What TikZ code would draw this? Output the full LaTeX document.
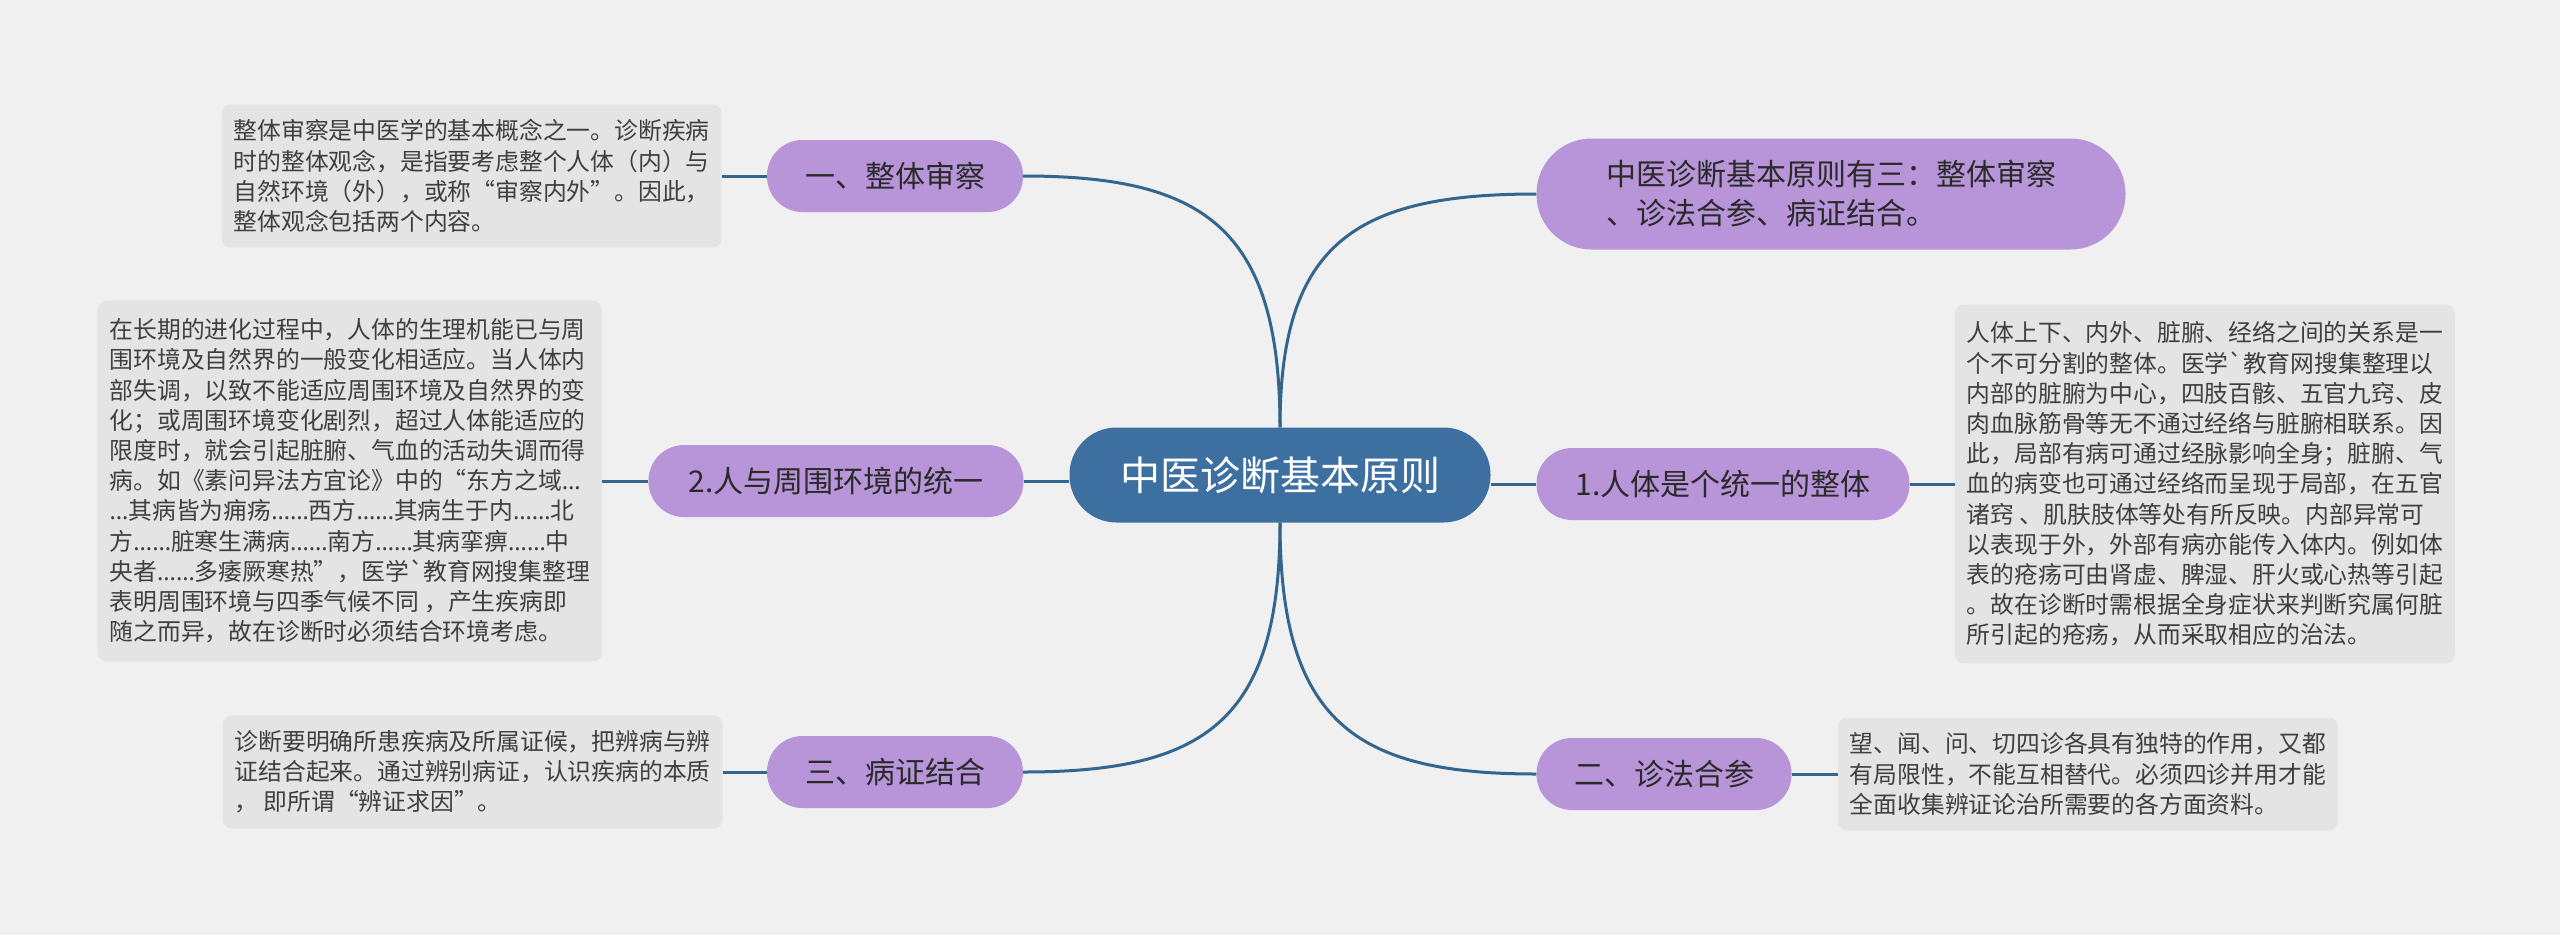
\documentclass[tikz,border=0pt]{standalone}
\usepackage{fontspec}
\newfontfamily\cjk{Noto Sans CJK SC}
\newfontfamily\latinfont{Noto Sans}
\usetikzlibrary{positioning}
\definecolor{bgcol}{HTML}{F0F0F0}
\definecolor{rootblue}{HTML}{3D6FA1}
\definecolor{linkblue}{HTML}{33668F}
\definecolor{topicpurple}{HTML}{B795D8}
\definecolor{notegray}{HTML}{E4E4E4}
\definecolor{inkgray}{HTML}{2A2A2A}
\newcommand\ellip{{\latinfont …}}
\tikzset{
  root/.style={rectangle,rounded corners=47pt,fill=rootblue,text=white,
    minimum width=421pt,minimum height=95pt,inner sep=0pt,
    font=\cjk\fontsize{40}{46}\selectfont},
  topic/.style={rectangle,rounded corners=35.5pt,fill=topicpurple,text=inkgray,
    minimum width=#1,minimum height=72pt,inner sep=0pt,
    font=\cjk\fontsize{30}{38}\selectfont},
  topic/.default=256pt,
  note/.style={rectangle,rounded corners=9pt,fill=notegray,text=inkgray!90,
    align=left,inner xsep=12pt,inner ysep=15pt,
    font=\cjk\fontsize{23.8}{30.2}\selectfont},
  link/.style={draw=linkblue,line width=3pt}
}

\begin{document}
\begin{tikzpicture}[x=1pt,y=-1pt]
\fill[bgcol] (0,0) rectangle (2560,935);
\useasboundingbox (0,0) rectangle (2560,935);
% centre and main topics
\node[root] (root) at (1280,475) {中医诊断基本原则};
\node[topic] (whole) at (895,176) {一、整体审察};
\node[topic=375pt] (env) at (836,481) {2.人与周围环境的统一};
\node[topic] (combine) at (895,772) {三、病证结合};
\node[topic=589pt,minimum height=111pt,rounded corners=55pt,align=left,
  font=\cjk\fontsize{30}{39}\selectfont] (summary) at (1831,194)
  {中医诊断基本原则有三：整体审察\\、诊法合参、病证结合。};
\node[topic=373pt] (unity) at (1723,484) {1.人体是个统一的整体};
\node[topic=255pt] (methods) at (1664,774) {二、诊法合参};
% notes
\node[note,left=45pt of whole] (wholenote)
  {整体审察是中医学的基本概念之一。诊断疾病\\
   时的整体观念，是指要考虑整个人体（内）与\\
   自然环境（外），或称“审察内外”。因此，\\
   整体观念包括两个内容。};
\node[note,left=46pt of env,inner ysep=18pt] (envnote)
  {在长期的进化过程中，人体的生理机能已与周\\
   围环境及自然界的一般变化相适应。当人体内\\
   部失调，以致不能适应周围环境及自然界的变\\
   化；或周围环境变化剧烈，超过人体能适应的\\
   限度时，就会引起脏腑、气血的活动失调而得\\
   病。如《素问异法方宜论》中的“东方之域\ellip\\
   \ellip 其病皆为痈疡\ellip\ellip 西方\ellip\ellip 其病生于内\ellip\ellip 北\\
   方\ellip\ellip 脏寒生满病\ellip\ellip 南方\ellip\ellip 其病挛痹\ellip\ellip 中\\
   央者\ellip\ellip 多痿厥寒热”，医学`教育网搜集整理\\
   表明周围环境与四季气候不同 ，产生疾病即\\
   随之而异，故在诊断时必须结合环境考虑。};
\node[note,left=44pt of combine] (combinenote)
  {诊断要明确所患疾病及所属证候，把辨病与辨\\
   证结合起来。通过辨别病证，认识疾病的本质\\
   ， 即所谓“辨证求因”。};
\node[note,right=45pt of unity,inner ysep=17pt] (unitynote)
  {人体上下、内外、脏腑、经络之间的关系是一\\
   个不可分割的整体。医学`教育网搜集整理以\\
   内部的脏腑为中心，四肢百骸、五官九窍、皮\\
   肉血脉筋骨等无不通过经络与脏腑相联系。因\\
   此，局部有病可通过经脉影响全身；脏腑、气\\
   血的病变也可通过经络而呈现于局部，在五官\\
   诸窍 、肌肤肢体等处有所反映。内部异常可\\
   以表现于外，外部有病亦能传入体内。例如体\\
   表的疮疡可由肾虚、脾湿、肝火或心热等引起\\
   。故在诊断时需根据全身症状来判断究属何脏\\
   所引起的疮疡，从而采取相应的治法。};
\node[note,right=46pt of methods] (methodsnote)
  {望、闻、问、切四诊各具有独特的作用，又都\\
   有局限性，不能互相替代。必须四诊并用才能\\
   全面收集辨证论治所需要的各方面资料。};
% connectors
\draw[link] (root.north) .. controls +(0,-200) and +(180,0) .. (whole.east);
\draw[link] (root.north) .. controls +(0,-185) and +(-180,0) .. (summary.west);
\draw[link] (root.south) .. controls +(0,200) and +(180,0) .. (combine.east);
\draw[link] (root.south) .. controls +(0,200) and +(-180,0) .. (methods.west);
\draw[link] (env.east) -- (env.east -| root.west);
\draw[link] (unity.west) -- (unity.west -| root.east);
\draw[link] (whole.west) -- (wholenote.east);
\draw[link] (env.west) -- (envnote.east);
\draw[link] (combine.west) -- (combinenote.east);
\draw[link] (unity.east) -- (unitynote.west);
\draw[link] (methods.east) -- (methodsnote.west);
\end{tikzpicture}
\end{document}
